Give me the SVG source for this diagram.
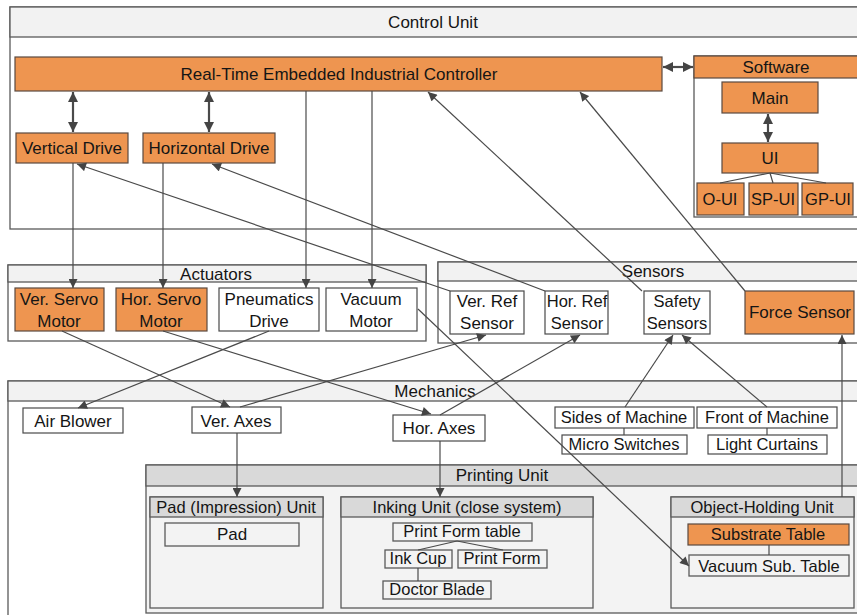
<svg xmlns="http://www.w3.org/2000/svg" width="857" height="615" viewBox="0 0 857 615">
  <defs>
    <marker id="ah" viewBox="0 0 10 10" refX="10" refY="5" markerUnits="userSpaceOnUse" markerWidth="10" markerHeight="9" orient="auto-start-reverse">
      <path d="M0,0 L10,5 L0,10 z" fill="#444"/>
    </marker>
    <marker id="ahb" viewBox="0 0 10 10" refX="10" refY="5" markerUnits="userSpaceOnUse" markerWidth="11" markerHeight="10" orient="auto-start-reverse">
      <path d="M0,0 L10,5 L0,10 z" fill="#444"/>
    </marker>
  </defs>
  <style>
    text { font-family: "Liberation Sans", Arial, sans-serif; font-size: 16.5px; fill: #151515; text-anchor: middle; }
    .big { font-size: 17px; }
    .frame { fill: #ffffff; stroke: #5a5a5a; stroke-width: 1.3; }
    .pframe { fill: #f3f3f3; stroke: #5a5a5a; stroke-width: 1.3; }
    .hdr { fill: #f2f2f2; stroke: #5a5a5a; stroke-width: 1.3; }
    .hdr2 { fill: #d9d9d9; stroke: #5a5a5a; stroke-width: 1.3; }
    .box { fill: #ffffff; stroke: #4a4a4a; stroke-width: 1.2; }
    .obox { fill: #ee9550; stroke: #5a4a40; stroke-width: 1.2; }
    .link { fill: none; stroke: #4a4a4a; stroke-width: 1.2; }
    .arr { fill: none; stroke: #4a4a4a; stroke-width: 1.2; marker-end: url(#ah); }
    .dbl { fill: none; stroke: #4a4a4a; stroke-width: 2.2; marker-start: url(#ahb); marker-end: url(#ahb); }
  </style>
  <rect width="857" height="615" fill="#ffffff"/>

  <!-- Control Unit container -->
  <g id="control-unit">
    <rect class="frame" x="10" y="7" width="852" height="222"/>
    <rect class="hdr" x="10" y="7" width="852" height="30"/>
    <text class="big" x="433" y="28">Control Unit</text>
  </g>
  <g id="controller">
    <rect class="obox" x="15" y="57" width="647" height="34"/>
    <text class="big" x="339" y="80">Real-Time Embedded Industrial Controller</text>
  </g>
  <g id="vertical-drive">
    <rect class="obox" x="16" y="133" width="112" height="30"/>
    <text class="big" x="72" y="154">Vertical Drive</text>
  </g>
  <g id="horizontal-drive">
    <rect class="obox" x="143" y="133" width="132" height="30"/>
    <text class="big" x="209" y="154">Horizontal Drive</text>
  </g>
  <g id="software">
    <rect class="frame" x="694" y="56" width="166" height="161"/>
    <rect class="obox" x="694" y="56" width="166" height="22"/>
    <text class="big" x="776" y="73">Software</text>
  </g>
  <g id="main">
    <rect class="obox" x="722" y="82" width="96" height="31"/>
    <text class="big" x="770" y="104">Main</text>
  </g>
  <g id="ui">
    <rect class="obox" x="722" y="143" width="96" height="30"/>
    <text class="big" x="770" y="164">UI</text>
  </g>
  <g id="o-ui">
    <rect class="obox" x="697" y="183" width="47" height="32"/>
    <text x="720" y="205">O-UI</text>
  </g>
  <g id="sp-ui">
    <rect class="obox" x="749" y="183" width="49" height="32"/>
    <text x="773" y="205">SP-UI</text>
  </g>
  <g id="gp-ui">
    <rect class="obox" x="802" y="183" width="51" height="32"/>
    <text x="828" y="205">GP-UI</text>
  </g>

  <!-- Actuators -->
  <g id="actuators">
    <rect class="frame" x="8" y="265" width="418" height="76"/>
    <rect class="hdr" x="8" y="265" width="418" height="17"/>
    <text class="big" x="216" y="280">Actuators</text>
  </g>
  <g id="ver-servo-motor">
    <rect class="obox" x="15" y="288" width="89" height="43"/>
    <text class="big" x="59" y="305">Ver. Servo</text>
    <text class="big" x="59" y="327">Motor</text>
  </g>
  <g id="hor-servo-motor">
    <rect class="obox" x="116" y="288" width="91" height="43"/>
    <text class="big" x="161" y="305">Hor. Servo</text>
    <text class="big" x="161" y="327">Motor</text>
  </g>
  <g id="pneumatics-drive">
    <rect class="box" x="219" y="288" width="100" height="43"/>
    <text class="big" x="269" y="305">Pneumatics</text>
    <text class="big" x="269" y="327">Drive</text>
  </g>
  <g id="vacuum-motor">
    <rect class="box" x="326" y="288" width="91" height="43"/>
    <text class="big" x="371" y="305">Vacuum</text>
    <text class="big" x="371" y="327">Motor</text>
  </g>

  <!-- Sensors -->
  <g id="sensors">
    <rect class="frame" x="438" y="262" width="424" height="81"/>
    <rect class="hdr" x="438" y="262" width="424" height="19"/>
    <text class="big" x="653" y="277">Sensors</text>
  </g>
  <g id="ver-ref-sensor">
    <rect class="box" x="450" y="291" width="74" height="43"/>
    <text class="big" x="487" y="307">Ver. Ref</text>
    <text class="big" x="487" y="329">Sensor</text>
  </g>
  <g id="hor-ref-sensor">
    <rect class="box" x="545" y="291" width="63" height="43"/>
    <text x="577" y="307">Hor. Ref</text>
    <text x="577" y="329">Sensor</text>
  </g>
  <g id="safety-sensors">
    <rect class="box" x="644" y="291" width="66" height="43"/>
    <text x="677" y="307">Safety</text>
    <text x="677" y="329">Sensors</text>
  </g>
  <g id="force-sensor">
    <rect class="obox" x="745" y="291" width="109" height="43"/>
    <text class="big" x="800" y="318">Force Sensor</text>
  </g>

  <!-- Mechanics -->
  <g id="mechanics">
    <rect class="frame" x="8" y="381" width="854" height="240"/>
    <rect class="hdr" x="8" y="381" width="854" height="20"/>
    <text class="big" x="435" y="397">Mechanics</text>
  </g>
  <g id="air-blower">
    <rect class="box" x="23" y="408" width="100" height="25"/>
    <text class="big" x="73" y="427">Air Blower</text>
  </g>
  <g id="ver-axes">
    <rect class="box" x="192" y="407" width="89" height="26"/>
    <text class="big" x="236" y="427">Ver. Axes</text>
  </g>
  <g id="hor-axes">
    <rect class="box" x="393" y="415" width="92" height="26"/>
    <text class="big" x="439" y="434">Hor. Axes</text>
  </g>
  <g id="sides-of-machine">
    <rect class="box" x="555" y="407" width="139" height="21"/>
    <text x="624" y="423">Sides of Machine</text>
  </g>
  <g id="front-of-machine">
    <rect class="box" x="697" y="407" width="140" height="21"/>
    <text x="767" y="423">Front of Machine</text>
  </g>
  <g id="micro-switches">
    <rect class="box" x="562" y="435" width="125" height="19"/>
    <text x="624" y="450">Micro Switches</text>
  </g>
  <g id="light-curtains">
    <rect class="box" x="708" y="435" width="119" height="19"/>
    <text x="767" y="450">Light Curtains</text>
  </g>

  <!-- Printing Unit -->
  <g id="printing-unit">
    <rect class="pframe" x="146" y="465" width="716" height="148"/>
    <rect class="hdr2" x="146" y="465" width="716" height="21"/>
    <text class="big" x="502" y="481">Printing Unit</text>
  </g>
  <g id="pad-unit">
    <rect class="pframe" x="150" y="497" width="173" height="111"/>
    <rect class="hdr2" x="150" y="497" width="173" height="20"/>
    <text x="236" y="513">Pad (Impression) Unit</text>
  </g>
  <g id="pad">
    <rect class="pframe" x="165" y="523" width="134" height="23"/>
    <text class="big" x="232" y="540">Pad</text>
  </g>
  <g id="inking-unit">
    <rect class="pframe" x="341" y="497" width="252" height="111"/>
    <rect class="hdr2" x="341" y="497" width="252" height="20"/>
    <text x="467" y="513">Inking Unit (close system)</text>
  </g>
  <g id="print-form-table">
    <rect class="pframe" x="393" y="523" width="139" height="18"/>
    <text x="462" y="537">Print Form table</text>
  </g>
  <g id="ink-cup">
    <rect class="pframe" x="385" y="550" width="67" height="18"/>
    <text x="418" y="564">Ink Cup</text>
  </g>
  <g id="print-form">
    <rect class="pframe" x="458" y="550" width="89" height="18"/>
    <text x="502" y="564">Print Form</text>
  </g>
  <g id="doctor-blade">
    <rect class="pframe" x="383" y="581" width="108" height="18"/>
    <text x="437" y="595">Doctor Blade</text>
  </g>
  <g id="object-holding-unit">
    <rect class="pframe" x="671" y="497" width="183" height="111"/>
    <rect class="hdr2" x="671" y="497" width="183" height="20"/>
    <text x="762" y="513">Object-Holding Unit</text>
  </g>
  <g id="substrate-table">
    <rect class="obox" x="688" y="524" width="161" height="21"/>
    <text x="768" y="540">Substrate Table</text>
  </g>
  <g id="vacuum-sub-table">
    <rect class="pframe" x="689" y="555" width="160" height="21"/>
    <text x="769" y="572">Vacuum Sub. Table</text>
  </g>

  <!-- Connectors -->
  <g id="connectors">
    <!-- controller to drives and software (bidirectional) -->
    <line class="dbl" x1="73" y1="92" x2="73" y2="132"/>
    <line class="dbl" x1="209" y1="92" x2="209" y2="132"/>
    <line class="dbl" x1="663" y1="67" x2="693" y2="67"/>
    <line class="dbl" x1="768" y1="114" x2="768" y2="142"/>
    <!-- UI to its sub-interfaces -->
    <line class="link" x1="770" y1="173" x2="720" y2="183"/>
    <line class="link" x1="770" y1="173" x2="773" y2="183"/>
    <line class="link" x1="770" y1="173" x2="826" y2="183"/>
    <!-- control unit down to actuators -->
    <line class="arr" x1="73" y1="163" x2="73" y2="288"/>
    <line class="arr" x1="163" y1="163" x2="163" y2="288"/>
    <line class="arr" x1="306" y1="91" x2="306" y2="288"/>
    <line class="arr" x1="372" y1="91" x2="372" y2="288"/>
    <!-- sensor feedback to control unit -->
    <line class="arr" x1="450" y1="291" x2="77" y2="164"/>
    <line class="arr" x1="545" y1="291" x2="212" y2="164"/>
    <line class="arr" x1="642" y1="291" x2="428" y2="92"/>
    <line class="arr" x1="745" y1="291" x2="580" y2="92"/>
    <!-- actuators to mechanics -->
    <line class="arr" x1="62" y1="331" x2="230" y2="407"/>
    <line class="arr" x1="163" y1="331" x2="431" y2="414"/>
    <line class="arr" x1="269" y1="331" x2="78" y2="408"/>
    <line class="arr" x1="418" y1="309" x2="689" y2="566"/>
    <!-- mechanics to sensors -->
    <line class="arr" x1="240" y1="407" x2="486" y2="335"/>
    <line class="arr" x1="440" y1="415" x2="580" y2="335"/>
    <line class="arr" x1="625" y1="407" x2="673" y2="335"/>
    <line class="arr" x1="767" y1="407" x2="682" y2="335"/>
    <line class="arr" x1="842" y1="497" x2="842" y2="335"/>
    <!-- axes to printing sub-units -->
    <line class="arr" x1="237" y1="433" x2="237" y2="497"/>
    <line class="arr" x1="440" y1="441" x2="440" y2="497"/>
    <!-- internal links -->
    <line class="link" x1="624" y1="428" x2="624" y2="435"/>
    <line class="link" x1="767" y1="428" x2="767" y2="435"/>
    <line class="link" x1="457" y1="541" x2="418" y2="550"/>
    <line class="link" x1="457" y1="541" x2="503" y2="550"/>
    <line class="link" x1="418" y1="568" x2="418" y2="581"/>
    <line class="link" x1="769" y1="545" x2="769" y2="555"/>
  </g>
</svg>
